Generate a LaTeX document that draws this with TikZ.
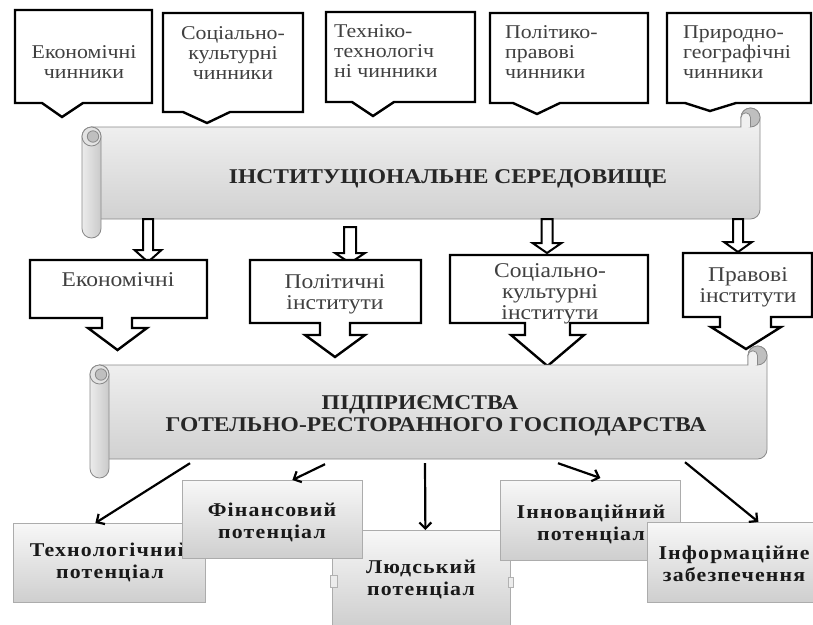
\documentclass[tikz,border=0pt]{standalone}
\usepackage{fontspec}
\setmainfont{Liberation Serif}[FakeStretch=1.12]
\newfontfamily\potfont{Liberation Serif}[FakeStretch=1.12,LetterSpace=6]
\usetikzlibrary{arrows.meta}
\definecolor{txtgray}{HTML}{404040}
\definecolor{lineg}{HTML}{8A8A8A}
\tikzset{
 callout/.style={draw=black, line width=2.4pt, fill=white, line join=miter},
 calltext/.style={inner sep=0pt, text=txtgray, font=\fontsize{19.5}{20}\selectfont},
 instbox/.style={draw=black, line width=2.4pt, fill=white, line join=miter},
 insttext/.style={inner sep=0pt, text=txtgray, align=center, anchor=north, font=\fontsize{21}{21.5}\selectfont},
 hollow/.style={draw=black, line width=2pt, fill=white, line join=miter},
 scrollline/.style={draw=lineg, line width=0.8pt},
 bannertext/.style={inner sep=0pt, font=\fontsize{21}{22}\selectfont\bfseries, text=black!85, align=center},
 bodyframe/.style={inner sep=0pt, draw=none},
 potbox/.style={draw=gray!65, line width=0.8pt, top color=gray!6, bottom color=gray!38, inner sep=0pt, anchor=north west},
 pottext/.style={inner sep=0pt, align=center, anchor=north, font=\potfont\fontsize{19.5}{22}\selectfont\bfseries, text=black!90},
 conn/.style={line width=2.2pt, -{Straight Barb[length=6pt,width=12pt]}},
 handle/.style={draw=gray!60, fill=gray!15, line width=0.6pt},
}
\newcommand\scrollshape[5]{%
 \pgfmathsetmacro\myL{#1}%
 \pgfmathsetmacro\myT{#2+#5}%
 \pgfmathsetmacro\myR{#3}%
 \pgfmathsetmacro\myB{#4-#5}%
 \pgfmathsetmacro\myD{#5}%
 \pgfmathsetmacro\myH{#5/2}%
 \pgfmathsetmacro\myQ{#5/4}%
 \pgfmathsetmacro\myE{#4}%
 \draw[scrollline, top color=gray!8, bottom color=gray!36]
  (\myL+\myH,\myT) -- (\myR-\myD,\myT) -- (\myR-\myD,\myT-\myH)
  arc[start angle=180,end angle=360,radius=\myH] -- (\myR,\myB-\myH)
  arc[start angle=0,end angle=90,radius=\myH] -- (\myL+\myH,\myB) -- cycle;
 \draw[scrollline, fill=gray!50] (\myR-\myH,\myT-\myH) circle[radius=\myH];
 \draw[scrollline, fill=gray!12] (\myR-\myD,\myT) -- (\myR-\myD,\myT-\myH)
  arc[start angle=180,end angle=360,radius=\myQ] -- (\myR-\myH,\myT);
 \draw[scrollline, left color=gray!15, right color=gray!42]
  (\myL,\myT+\myH) arc[start angle=180,end angle=360,radius=\myH]
  -- (\myL+\myD,\myE-\myH) arc[start angle=0,end angle=180,radius=\myH] -- cycle;
 \draw[scrollline, fill=gray!22] (\myL+\myH,\myT+\myH) circle[radius=\myH];
 \draw[scrollline, fill=gray!50] (\myL+\myH+1.5,\myT+\myH) circle[radius=0.3*\myD];
}
\newcommand\hollowarrow[6]{%
 \draw[hollow] (#1-#2,#3) -- (#1-#2,#4) -- (#1-#5,#4) -- (#1,#6) -- (#1+#5,#4)
  -- (#1+#2,#4) -- (#1+#2,#3) -- cycle;}
\begin{document}
\begin{tikzpicture}[x=1pt,y=-1pt]
\useasboundingbox (0,0) rectangle (813,624);
\fill[white] (0,0) rectangle (813,624);

% ---- banner 1
\scrollshape{82}{108}{760}{238}{19}
\node[bodyframe, minimum width=678pt, minimum height=92pt] (inst) at (421,173) {};
\node[bannertext, anchor=base] (insttxt) at (448,183) {ІНСТИТУЦІОНАЛЬНЕ СЕРЕДОВИЩЕ};

% ---- top callouts
\draw[callout] (15,10) -- (152,10) -- (152,103) -- (83,103) -- (62,117) -- (42,103) -- (15,103) -- cycle;
\node[calltext, anchor=north, align=center] (f1) at (84,44) {\strut Економічні\\\strut чинники};
\draw[callout] (163,13) -- (303,13) -- (303,112) -- (230,112) -- (207,123) -- (183,112) -- (163,112) -- cycle;
\node[calltext, anchor=north, align=center] (f2) at (233,25) {\strut Соціально-\\\strut культурні\\\strut чинники};
\draw[callout] (326,12) -- (475,12) -- (475,102) -- (394,102) -- (373,116) -- (352,102) -- (326,102) -- cycle;
\node[calltext, anchor=north west, align=left] (f3) at (334,23) {\strut Техніко-\\\strut технологіч\\\strut ні чинники};
\draw[callout] (490,13) -- (648,13) -- (648,103) -- (560,103) -- (537,114) -- (513,103) -- (490,103) -- cycle;
\node[calltext, anchor=north west, align=left] (f4) at (505,24) {\strut Політико-\\\strut правові\\\strut чинники};
\draw[callout] (667,13) -- (811,13) -- (811,103) -- (736,103) -- (710,111) -- (685,103) -- (667,103) -- cycle;
\node[calltext, anchor=north west, align=left] (f5) at (683,24) {\strut Природно-\\\strut географічні\\\strut чинники};

% ---- hollow arrows from banner 1
\hollowarrow{148}{5}{219}{250}{13.5}{262}
\hollowarrow{350}{6}{227}{253}{15}{263}
\hollowarrow{547}{5.5}{219}{243}{14.5}{253}
\hollowarrow{738}{5}{219}{242}{14}{252}

% ---- institutes row
\draw[instbox] (30,260) -- (207,260) -- (207,318) -- (132,318) -- (132,328) -- (147,328) -- (117.5,350) -- (88,328) -- (102,328) -- (102,318) -- (30,318) -- cycle;
\node[insttext] (i1) at (118,271) {\strut Економічні};
\draw[instbox] (250,260) -- (421,260) -- (421,323) -- (350,323) -- (350,335) -- (365,335) -- (335,357) -- (305,335) -- (320,335) -- (320,323) -- (250,323) -- cycle;
\node[insttext] (i2) at (335,273) {\strut Політичні\\\strut інститути};
\draw[instbox] (450,255) -- (648,255) -- (648,323) -- (570,323) -- (570,335) -- (584,335) -- (547.5,366) -- (511,335) -- (525,335) -- (525,323) -- (450,323) -- cycle;
\node[insttext, font=\fontsize{21}{19.5}\selectfont] (i3) at (550,263.4) {\strut Соціально-\\\strut культурні\\\strut інститути};
\draw[instbox] (683,253) -- (812,253) -- (812,317) -- (771,317) -- (771,327) -- (781,327) -- (746,349) -- (711,327) -- (720,327) -- (720,317) -- (683,317) -- cycle;
\node[insttext] (i4) at (748,266) {\strut Правові\\\strut інститути};

% ---- banner 2
\scrollshape{90}{346}{767}{478}{19}
\node[bodyframe, minimum width=677pt, minimum height=94pt] (ent) at (428.5,412) {};
\node[bannertext, anchor=north] (enttxt) at (436,393.6) {\strut ПІДПРИЄМСТВА\kern32pt\\\strut ГОТЕЛЬНО-РЕСТОРАННОГО ГОСПОДАРСТВА};

% ---- potentials
\node[potbox, minimum width=192pt, minimum height=79pt] (tech) at (13,523) {};
\node[pottext] (techt) at (110,540.6) {\strut Технологічний\\\strut потенціал};
\node[potbox, minimum width=178pt, minimum height=96pt] (lyud) at (332,530) {};
\draw[handle] (330,575) rectangle (337,587);
\draw[handle] (508,577) rectangle (513,587);
\node[pottext] (lyudt) at (421,557.6) {\strut Людський\\\strut потенціал};
\node[potbox, minimum width=180pt, minimum height=78pt] (fin) at (182,480) {};
\node[pottext] (fint) at (272,500.6) {\strut Фінансовий\\\strut потенціал};
\node[potbox, minimum width=180pt, minimum height=80pt] (innov) at (500,480) {};
\node[pottext] (innovt) at (591,502.6) {\strut Інноваційний\\\strut потенціал};
\node[potbox, minimum width=169pt, minimum height=80pt] (inform) at (647,522) {};
\node[pottext] (informt) at (734,543.6) {\strut Інформаційне\\\strut забезпечення};

% ---- connectors
\draw[conn] ([xshift=-238.5pt,yshift=-4pt]ent.south) -- ([xshift=-14pt]tech.north);
\draw[conn] ([xshift=-103.5pt,yshift=-5pt]ent.south) -- ([xshift=20pt]fin.north);
\draw[conn] ([xshift=-3.5pt,yshift=-4pt]ent.south) -- ([xshift=4pt]lyud.north);
\draw[conn] ([xshift=129.5pt,yshift=-4pt]ent.south) -- ([xshift=10pt,yshift=2pt]innov.north);
\draw[conn] ([xshift=256.5pt,yshift=-3pt]ent.south) -- ([xshift=26.5pt]inform.north);
\end{tikzpicture}
\end{document}
